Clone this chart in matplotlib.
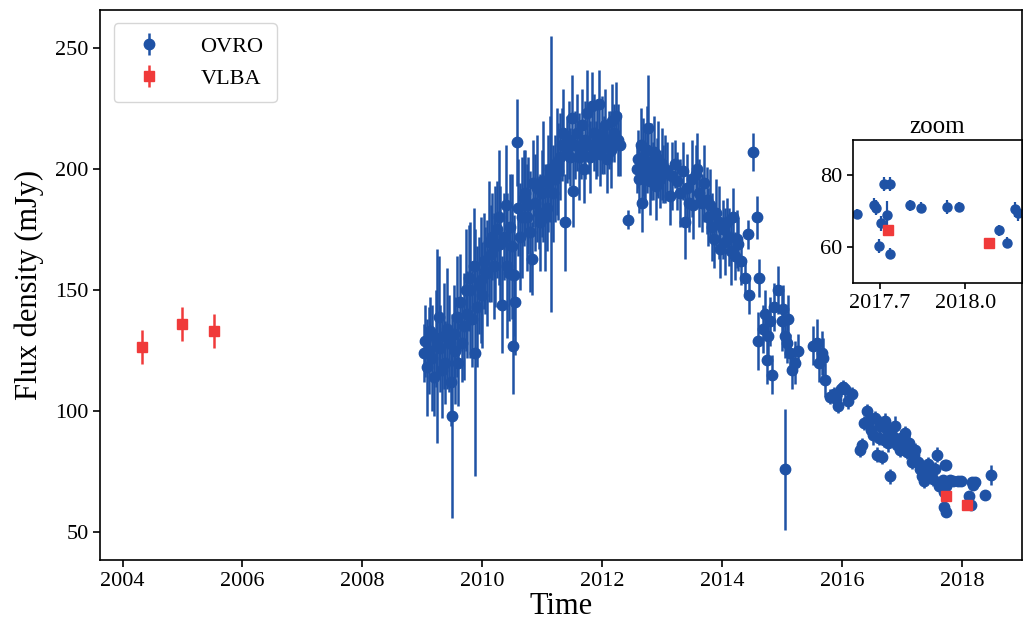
import matplotlib
matplotlib.use("Agg")
import matplotlib.pyplot as plt
import numpy as np

plt.rcParams['font.family'] = ['Liberation Serif', 'DejaVu Serif']

# OVRO light curve (decimal year, flux mJy, error mJy)
ovro_t = [
    2009.02, 2009.05, 2009.08, 2009.11, 2009.13, 2009.16, 2009.19, 2009.22, 2009.25, 2009.27,
    2009.30, 2009.33, 2009.36, 2009.38, 2009.41, 2009.44, 2009.47, 2009.49,
    2009.52, 2009.55, 2009.58, 2009.60, 2009.63, 2009.66, 2009.69, 2009.72, 2009.75, 2009.78,
    2009.80, 2009.83, 2009.86, 2009.88, 2009.91, 2009.94, 2009.97, 2009.99,
    2010.02, 2010.05, 2010.08, 2010.11, 2010.14, 2010.16, 2010.19, 2010.22, 2010.25, 2010.28,
    2010.30, 2010.33, 2010.36, 2010.39, 2010.42, 2010.44, 2010.47, 2010.50, 2010.52, 2010.53,
    2010.55, 2010.58, 2010.60,
    2010.63, 2010.66, 2010.69, 2010.72, 2010.75, 2010.77, 2010.80, 2010.83, 2010.85, 2010.88,
    2010.91, 2010.94, 2010.97, 2010.99, 2011.02, 2011.05, 2011.08, 2011.10, 2011.13, 2011.15,
    2011.18, 2011.21, 2011.24, 2011.27, 2011.30,
    2011.33, 2011.35, 2011.38, 2011.41, 2011.44, 2011.47, 2011.50, 2011.52, 2011.55, 2011.58,
    2011.61, 2011.64, 2011.66, 2011.69, 2011.72, 2011.75, 2011.78, 2011.80, 2011.83, 2011.86,
    2011.89, 2011.91, 2011.94, 2011.97, 2012.00, 2012.03, 2012.05, 2012.08, 2012.11, 2012.14,
    2012.17, 2012.20, 2012.23, 2012.27, 2012.30,
    2012.43,
    2012.58, 2012.60, 2012.62, 2012.64, 2012.66, 2012.68, 2012.70, 2012.72, 2012.74, 2012.77,
    2012.79, 2012.81, 2012.84, 2012.86, 2012.89, 2012.91, 2012.93, 2012.96, 2012.99, 2013.02,
    2013.05, 2013.08,
    2013.13, 2013.17, 2013.21, 2013.25, 2013.30, 2013.34, 2013.38, 2013.41, 2013.45, 2013.49,
    2013.52, 2013.56, 2013.58, 2013.62, 2013.66, 2013.70, 2013.74, 2013.77, 2013.80, 2013.83,
    2013.86, 2013.90, 2013.94, 2013.97,
    2014.01, 2014.04, 2014.08, 2014.11, 2014.15, 2014.18, 2014.21, 2014.25, 2014.27, 2014.31,
    2014.38, 2014.43, 2014.44, 2014.52, 2014.58, 2014.62,
    2014.60, 2014.68, 2014.72, 2014.74, 2014.77, 2014.80, 2014.83, 2014.86, 2014.93, 2014.99,
    2015.02, 2015.04, 2015.05, 2015.08, 2015.10, 2015.13, 2015.16, 2015.22, 2015.27,
    2015.52, 2015.58, 2015.62, 2015.66, 2015.69, 2015.72, 2015.80, 2015.86, 2015.90, 2015.94,
    2015.98, 2016.02, 2016.05, 2016.10, 2016.16,
    2016.30, 2016.33, 2016.36, 2016.41, 2016.45, 2016.49, 2016.52, 2016.55, 2016.58, 2016.61,
    2016.64, 2016.66, 2016.70, 2016.72, 2016.75, 2016.77, 2016.80, 2016.84, 2016.88, 2016.91,
    2016.94, 2016.97, 2016.99,
    2017.02, 2017.05, 2017.08, 2017.12, 2017.16, 2017.20, 2017.22, 2017.26, 2017.30, 2017.33,
    2017.36, 2017.40, 2017.44, 2017.48, 2017.52, 2017.55, 2017.58,
    2017.62, 2017.68, 2017.685, 2017.695, 2017.705, 2017.713, 2017.725, 2017.735, 2017.737, 2017.805,
    2017.846, 2017.937, 2017.977, 2018.12, 2018.148, 2018.175, 2018.187,
    2018.22, 2018.38, 2018.49,
]
ovro_f = [
    124, 129, 118, 125, 133, 122, 114, 130, 127, 139,
    126, 117, 131, 120, 134, 128, 112, 98,
    132, 125, 139, 120, 145, 128, 135, 150, 140, 155,
    150, 138, 160, 124, 143, 152, 154, 148,
    162, 158, 157, 170, 165, 172, 160, 168, 175, 180,
    169, 144, 172, 185, 160, 157, 176, 168, 127, 156,
    145, 211, 184,
    172, 180, 188, 190, 180, 185, 174, 163, 194, 186,
    192, 182, 178, 190, 195, 180, 184, 194, 200, 198,
    190, 196, 203, 199, 205,
    210, 215, 178, 208, 212, 205, 221, 191, 210, 215,
    205, 208, 218, 200, 212, 223, 210, 205, 226, 215,
    208, 212, 227, 206, 214, 210, 218, 204, 212, 208,
    220, 215, 222, 212, 210,
    179,
    200, 204, 196, 210, 186, 205, 198, 202, 208, 217,
    195, 203, 199, 207, 193, 201, 204, 196, 202, 198,
    200, 199,
    189, 197, 202, 195, 190, 199, 178, 192, 186, 196,
    185, 198, 200, 190, 186, 194, 187, 180, 185, 176,
    171, 182, 178, 167,
    175, 170, 178, 172, 166, 180, 164, 171, 169, 162,
    155, 173, 148, 207, 180, 155,
    129, 134, 140, 121, 131, 137, 115, 143, 150, 137,
    142, 76, 131, 128, 138, 124, 117, 120, 125,
    127, 128, 120, 124, 122, 113, 106, 107, 105, 102,
    109, 110, 109, 104, 107,
    84, 86, 95, 100, 96, 92, 90, 97, 82, 89,
    94, 81, 88, 96, 92, 87, 73, 90, 94, 86,
    88, 84, 89,
    85, 91, 83, 87, 79, 82, 84, 79, 76, 73,
    71, 76, 78, 74, 72, 76, 82,
    69.2, 71.7, 71.0, 60.4, 66.6, 77.5, 68.9, 77.5, 58.2, 71.7,
    71.0, 71.2, 71.2, 64.7, 61.2, 70.5, 69.4,
    70.8, 65.3, 73.6,
]
ovro_e = [
    12, 15, 20, 18, 14, 22, 16, 20, 40, 25,
    18, 20, 22, 17, 25, 20, 18, 42,
    20, 22, 25, 18, 20, 16, 22, 25, 18, 22,
    28, 20, 24, 51, 25, 20, 26, 22,
    20, 18, 22, 25, 20, 18, 22, 25, 20, 28,
    24, 20, 18, 25, 30, 20, 22, 30, 20, 25,
    22, 18, 20,
    22, 25, 20, 18, 22, 20, 25, 15, 18, 20,
    22, 15, 20, 18, 25, 22, 18, 20, 22, 57,
    20, 18, 22, 20, 18,
    15, 18, 20, 14, 16, 12, 18, 15, 14, 16,
    18, 12, 15, 14, 16, 18, 12, 15, 14, 16,
    12, 15, 14, 13, 16, 12, 15, 14, 12, 16,
    15, 12, 14, 15, 13,
    4,
    10, 12, 14, 15, 12, 16, 12, 15, 18, 22,
    14, 16, 12, 15, 14, 12, 16, 12, 15, 12,
    14, 12,
    12, 14, 10, 12, 14, 12, 15, 14, 12, 16,
    14, 12, 15, 14, 12, 16, 14, 12, 15, 14,
    12, 14, 15, 12,
    12, 14, 10, 12, 14, 12, 10, 12, 11, 10,
    8, 6, 8, 8, 9, 8,
    12, 10, 10, 10, 9, 10, 8, 10, 10, 12,
    10, 25, 9, 8, 10, 8, 8, 9, 7,
    8, 10, 8, 9, 8, 7, 3, 3, 3, 3,
    3, 3, 3, 3, 3,
    3, 3, 3, 3, 3, 3, 4, 3, 3, 3,
    4, 3, 3, 3, 3, 4, 3, 3, 4, 3,
    3, 3, 3,
    3, 3, 3, 4, 3, 3, 3, 3, 3, 3,
    3, 3, 3, 3, 3, 3, 3,
    1.5, 2, 2, 2, 2, 2, 4, 2, 1.5, 1.5,
    1.5, 2, 1.5, 1.5, 1.5, 2, 2,
    2, 2, 4,
]

# VLBA core flux
vlba_t = [2004.33, 2005.00, 2005.53, 2017.73, 2018.085]
vlba_f = [126.4, 136.0, 133.0, 64.7, 61.2]
vlba_e = [7, 7, 7, 1, 1]

blue = '#1f52a5'
red = '#f03a3a'

fig = plt.figure(figsize=(10.24, 6.21), dpi=100)
ax = fig.add_axes([0.098, 0.098, 0.900, 0.886])

ax.errorbar(ovro_t, ovro_f, yerr=ovro_e, fmt='o', color=blue, ms=7.5,
            elinewidth=1.8, capsize=0, label='OVRO')
ax.errorbar(vlba_t, vlba_f, yerr=vlba_e, fmt='s', color=red, ms=7.5,
            elinewidth=1.8, capsize=0, label='VLBA')

ax.set_xlim(2003.63, 2019.0)
ax.set_ylim(38.4, 265.7)
ax.set_xticks([2004, 2006, 2008, 2010, 2012, 2014, 2016, 2018])
ax.set_yticks([50, 100, 150, 200, 250])
ax.tick_params(labelsize=16, length=5, width=1.2)
ax.set_xlabel('Time', fontsize=22, labelpad=1)
ax.set_ylabel('Flux density (mJy)', fontsize=22, labelpad=8)
for s in ax.spines.values():
    s.set_linewidth(1.2)

leg = ax.legend(loc='upper left', fontsize=16, frameon=True, borderpad=0.6,
                handletextpad=1.3, labelspacing=0.5, borderaxespad=0.6)
leg.get_frame().set_edgecolor('#cccccc')

# inset zoom
axin = fig.add_axes([0.833, 0.544, 0.165, 0.230])
axin.errorbar(ovro_t, ovro_f, yerr=ovro_e, fmt='o', color=blue, ms=6.5,
              elinewidth=1.6, capsize=0)
axin.errorbar(vlba_t, vlba_f, yerr=vlba_e, fmt='s', color=red, ms=6.5,
              elinewidth=1.6, capsize=0)
axin.set_xlim(2017.605, 2018.20)
axin.set_ylim(50, 89.7)
axin.set_xticks([2017.7, 2018.0])
axin.set_xticklabels(['2017.7', '2018.0'])
axin.set_yticks([60, 80])
axin.tick_params(labelsize=16, length=4, width=1.2)
axin.set_title('zoom', fontsize=18, pad=5)
for s in axin.spines.values():
    s.set_linewidth(1.2)

fig.savefig('out.png', dpi=100)
